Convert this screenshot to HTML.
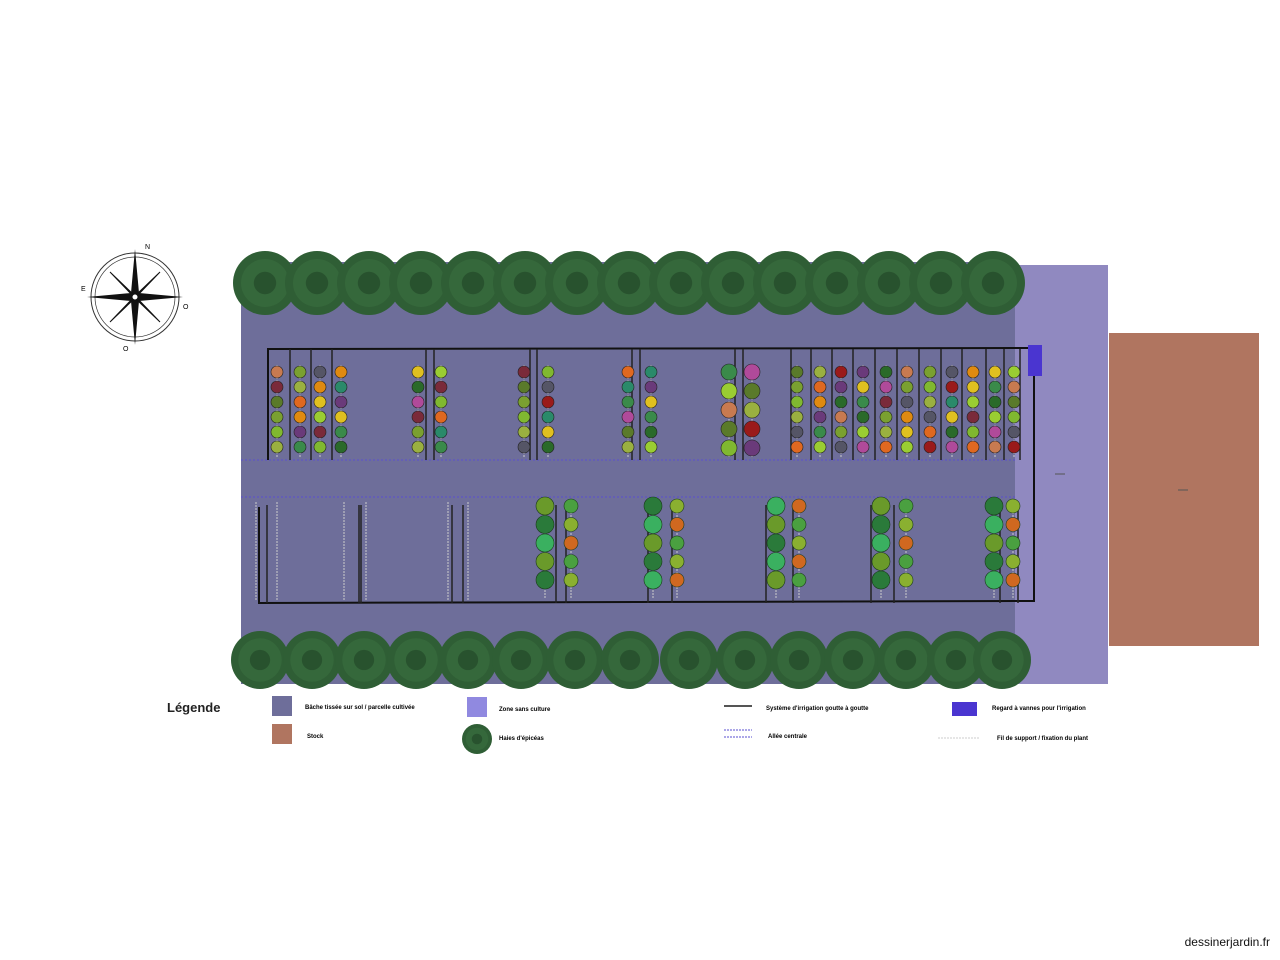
<!DOCTYPE html>
<html><head><meta charset="utf-8"><style>
body{margin:0;background:#fff;width:1280px;height:960px;overflow:hidden;font-family:"Liberation Sans",sans-serif}
svg{position:absolute;left:0;top:0}
</style></head><body>
<svg id="s" width="1280" height="960" xmlns="http://www.w3.org/2000/svg">
<rect x="1015" y="265" width="93" height="419" fill="#9089c0"/>
<rect x="1109" y="333" width="150" height="313" fill="#b07560"/>
<rect x="241" y="262" width="774" height="422" fill="#6e6e9a"/>
<line x1="1055" y1="474" x2="1065" y2="474" stroke="#555" stroke-width="1"/>
<line x1="1178" y1="490" x2="1188" y2="490" stroke="#555" stroke-width="1"/>
<line x1="241" y1="460" x2="1015" y2="460" stroke="#5a4fd0" stroke-width="1" stroke-dasharray="2,2"/>
<line x1="241" y1="497" x2="1015" y2="497" stroke="#5a4fd0" stroke-width="1" stroke-dasharray="2,2"/>
<polyline points="268,460 268,349 1034,348 1034,601 259,603 259,507" fill="none" stroke="#111" stroke-width="2"/>
<rect x="1028" y="345" width="14" height="31" fill="#4a35d0"/>
<g id="g"></g>
<g transform="translate(135,297)">
<circle r="44" fill="none" stroke="#333" stroke-width="1"/>
<circle r="40" fill="none" stroke="#333" stroke-width="0.7"/>
<polygon points="0,-48 4,-4 0,0 -4,-4" fill="#111"/>
<polygon points="0,48 4,4 0,0 -4,4" fill="#111"/>
<polygon points="-48,0 -4,-4 0,0 -4,4" fill="#111"/>
<polygon points="48,0 4,-4 0,0 4,4" fill="#111"/>
<polygon points="25,-25 3,-2 0,0 2,-3" fill="#111" stroke="#111"/>
<polygon points="-25,25 -3,2 0,0 -2,3" fill="#111" stroke="#111"/>
<polygon points="25,25 3,2 0,0 2,3" fill="#111" stroke="#111"/>
<polygon points="-25,-25 -3,-2 0,0 -2,-3" fill="#111" stroke="#111"/>
<circle r="3" fill="#fff" stroke="#111"/>
<text x="10" y="-48" font-size="7">N</text><text x="48" y="12" font-size="7">O</text>
<text x="-12" y="54" font-size="7">O</text><text x="-54" y="-6" font-size="7">E</text>
</g>
<text x="167" y="712" font-size="13" font-weight="bold" fill="#222">Légende</text>
<rect x="272" y="696" width="20" height="20" fill="#6e6e9a"/>
<text x="305" y="709" font-size="6" font-weight="bold">Bâche tissée sur sol / parcelle cultivée</text>
<rect x="272" y="724" width="20" height="20" fill="#b07560"/>
<text x="307" y="738" font-size="6" font-weight="bold">Stock</text>
<rect x="467" y="697" width="20" height="20" fill="#9089e0"/>
<text x="499" y="711" font-size="6" font-weight="bold">Zone sans culture</text>
<text x="499" y="740" font-size="6" font-weight="bold">Haies d'épicéas</text>
<line x1="724" y1="706" x2="752" y2="706" stroke="#555" stroke-width="2"/>
<text x="766" y="710" font-size="6" font-weight="bold">Système d'irrigation goutte à goutte</text>
<line x1="724" y1="730" x2="752" y2="730" stroke="#5a4fd0" stroke-dasharray="2,1"/>
<line x1="724" y1="737" x2="752" y2="737" stroke="#5a4fd0" stroke-dasharray="2,1"/>
<text x="768" y="738" font-size="6" font-weight="bold">Allée centrale</text>
<rect x="952" y="702" width="25" height="14" fill="#4a35d0"/>
<text x="992" y="710" font-size="6" font-weight="bold">Regard à vannes pour l'irrigation</text>
<line x1="938" y1="738" x2="980" y2="738" stroke="#ccc" stroke-dasharray="2,1"/>
<text x="997" y="740" font-size="6" font-weight="bold">Fil de support / fixation du plant</text>
<text x="1270" y="946" font-size="12" text-anchor="end" fill="#111">dessinerjardin.fr</text>
</svg>
<script>
var g=document.getElementById('g'),h='';
function hedge(x,y,r){h+='<circle cx="'+x+'" cy="'+y+'" r="'+r+'" fill="#2f5e35"/><circle cx="'+x+'" cy="'+y+'" r="'+(r*0.75)+'" fill="#3b7040" opacity="0.6"/><circle cx="'+x+'" cy="'+y+'" r="'+(r*0.35)+'" fill="#24482a" opacity="0.7"/>';}
for(var i=0;i<15;i++){hedge(265+i*52,283,32)}
var bx=[260,312,364,416,468,521,575,630,689,745,799,853,906,956,1002];
bx.forEach(function(x){hedge(x,660,29)});
hedge(477,739,15);
var cols=['#c87a50','#7a2a3a','#5a7a2a','#7aa030','#80b830','#9ab040','#555566','#e06820','#9a1a1a','#e08a10','#2a8a6a','#6a3a7a','#e0c020','#3a8a4a','#2a6a2a','#9acd32','#b04a9a'];
// irrigation vertical stubs
function vl(x,y1,y2){h+='<line x1="'+x+'" y1="'+y1+'" x2="'+x+'" y2="'+y2+'" stroke="#222" stroke-width="1.5"/>';}
function wire(x,y1,y2){h+='<line x1="'+x+'" y1="'+y1+'" x2="'+x+'" y2="'+y2+'" stroke="#ccc" stroke-width="1" stroke-dasharray="2,1"/>';}
[290,311,332,426,434,530,537,632,640,735,743,791,811,832,853,875,897,919,941,962,986,1004,1020].forEach(function(x){vl(x,349,460)});
[267,361,359,452,463,556,566,648,672,766,793,871,894,1000,1018].forEach(function(x){vl(x,505,603)});
[277,300,320,341,418,441,524,548,628,651,729,752,797,820,841,863,886,907,930,952,973,995,1014].forEach(function(x,i){
 wire(x,365,458);
 var n=(x>700&&x<770)?5:6; var step=(x>700&&x<770)?19:15; var r=(x>700&&x<770)?8:6;
 for(var k=0;k<n;k++){var c=cols[(i*3+k*(i%3+1))%cols.length];h+='<circle cx="'+x+'" cy="'+(372+k*step)+'" r="'+r+'" fill="'+c+'" stroke="#222" stroke-width="0.6"/>';}
});
[256,277,344,366,448,468].forEach(function(x){wire(x,502,600)});
[545,571,653,677,776,799,881,906,994,1013].forEach(function(x,i){
 wire(x,500,598);
 var big=(i%2==0); var r=big?9:7;
 for(var k=0;k<5;k++){var c=['#6a9a2a','#4aa040','#2a7a3a','#8ab030','#3ab060','#d06820'][(i+k*2)%6];h+='<circle cx="'+x+'" cy="'+(506+k*18.5)+'" r="'+r+'" fill="'+c+'" stroke="#1a3a1a" stroke-width="0.6"/>';}
});
g.innerHTML=h;
</script>
</body></html>
